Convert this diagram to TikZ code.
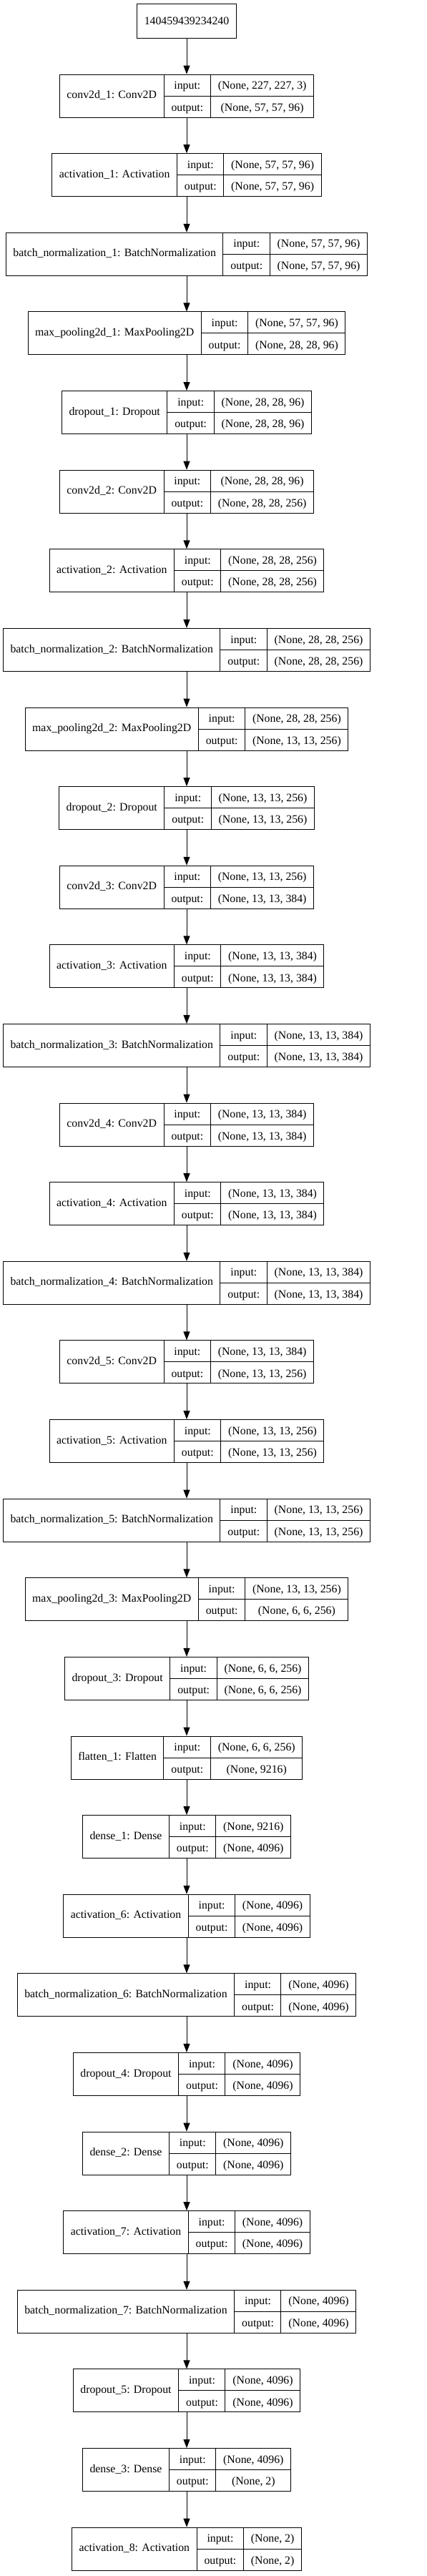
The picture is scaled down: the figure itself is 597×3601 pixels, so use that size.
\documentclass[tikz,border=0pt]{standalone}
\usepackage{fontspec}
\setmainfont{Liberation Serif}
\usepackage{tikz}
\usetikzlibrary{positioning,arrows.meta}

\setlength{\arrayrulewidth}{1pt}
\renewcommand{\arraystretch}{1.553}
\newcommand{\iocell}[2]{\begin{tabular}{@{\hspace{10pt}}c@{\hspace{10pt}}}#1\\\hline #2\end{tabular}}
\newcommand{\layertab}[3]{\begin{tabular}{@{\hspace{10pt}}c@{\hspace{10pt}}|@{}c@{}|@{}c@{}}#1 & \iocell{input:}{output:} & \iocell{#2}{#3}\end{tabular}}

\begin{document}
\begin{tikzpicture}[x=1pt,y=1pt,node distance=49.6pt,
	layerbox/.style={draw=black, line width=1pt, inner sep=0pt, font=\fontsize{15.8}{19}\selectfont},
	inputbox/.style={draw=black, line width=1pt, inner xsep=10pt, inner ysep=0pt, minimum height=48pt, font=\fontsize{15.8}{19}\selectfont},
	flow/.style={-{Triangle[length=12pt,width=9pt]}, line width=1pt, black},]
						\useasboundingbox (0,0) rectangle (597,-3601);
						\node[inputbox](model) at (261,-29.5){140459439234240};
						\node[layerbox](conv1)[below=of model]{\layertab{conv2d\_1: Conv2D}{(None, 227, 227, 3)}{(None, 57, 57, 96)}};
						\node[layerbox](act1)[below=of conv1]{\layertab{activation\_1: Activation}{(None, 57, 57, 96)}{(None, 57, 57, 96)}};
						\node[layerbox](bn1)[below=of act1]{\layertab{batch\_normalization\_1: BatchNormalization}{(None, 57, 57, 96)}{(None, 57, 57, 96)}};
						\node[layerbox](pool1)[below=of bn1]{\layertab{max\_pooling2d\_1: MaxPooling2D}{(None, 57, 57, 96)}{(None, 28, 28, 96)}};
						\node[layerbox](drop1)[below=of pool1]{\layertab{dropout\_1: Dropout}{(None, 28, 28, 96)}{(None, 28, 28, 96)}};
						\node[layerbox](conv2)[below=of drop1]{\layertab{conv2d\_2: Conv2D}{(None, 28, 28, 96)}{(None, 28, 28, 256)}};
						\node[layerbox](act2)[below=of conv2]{\layertab{activation\_2: Activation}{(None, 28, 28, 256)}{(None, 28, 28, 256)}};
						\node[layerbox](bn2)[below=of act2]{\layertab{batch\_normalization\_2: BatchNormalization}{(None, 28, 28, 256)}{(None, 28, 28, 256)}};
						\node[layerbox](pool2)[below=of bn2]{\layertab{max\_pooling2d\_2: MaxPooling2D}{(None, 28, 28, 256)}{(None, 13, 13, 256)}};
						\node[layerbox](drop2)[below=of pool2]{\layertab{dropout\_2: Dropout}{(None, 13, 13, 256)}{(None, 13, 13, 256)}};
						\node[layerbox](conv3)[below=of drop2]{\layertab{conv2d\_3: Conv2D}{(None, 13, 13, 256)}{(None, 13, 13, 384)}};
						\node[layerbox](act3)[below=of conv3]{\layertab{activation\_3: Activation}{(None, 13, 13, 384)}{(None, 13, 13, 384)}};
						\node[layerbox](bn3)[below=of act3]{\layertab{batch\_normalization\_3: BatchNormalization}{(None, 13, 13, 384)}{(None, 13, 13, 384)}};
						\node[layerbox](conv4)[below=of bn3]{\layertab{conv2d\_4: Conv2D}{(None, 13, 13, 384)}{(None, 13, 13, 384)}};
						\node[layerbox](act4)[below=of conv4]{\layertab{activation\_4: Activation}{(None, 13, 13, 384)}{(None, 13, 13, 384)}};
						\node[layerbox](bn4)[below=of act4]{\layertab{batch\_normalization\_4: BatchNormalization}{(None, 13, 13, 384)}{(None, 13, 13, 384)}};
						\node[layerbox](conv5)[below=of bn4]{\layertab{conv2d\_5: Conv2D}{(None, 13, 13, 384)}{(None, 13, 13, 256)}};
						\node[layerbox](act5)[below=of conv5]{\layertab{activation\_5: Activation}{(None, 13, 13, 256)}{(None, 13, 13, 256)}};
						\node[layerbox](bn5)[below=of act5]{\layertab{batch\_normalization\_5: BatchNormalization}{(None, 13, 13, 256)}{(None, 13, 13, 256)}};
						\node[layerbox](pool3)[below=of bn5]{\layertab{max\_pooling2d\_3: MaxPooling2D}{(None, 13, 13, 256)}{(None, 6, 6, 256)}};
						\node[layerbox](drop3)[below=of pool3]{\layertab{dropout\_3: Dropout}{(None, 6, 6, 256)}{(None, 6, 6, 256)}};
						\node[layerbox](flat1)[below=of drop3]{\layertab{flatten\_1: Flatten}{(None, 6, 6, 256)}{(None, 9216)}};
						\node[layerbox](dense1)[below=of flat1]{\layertab{dense\_1: Dense}{(None, 9216)}{(None, 4096)}};
						\node[layerbox](act6)[below=of dense1]{\layertab{activation\_6: Activation}{(None, 4096)}{(None, 4096)}};
						\node[layerbox](bn6)[below=of act6]{\layertab{batch\_normalization\_6: BatchNormalization}{(None, 4096)}{(None, 4096)}};
						\node[layerbox](drop4)[below=of bn6]{\layertab{dropout\_4: Dropout}{(None, 4096)}{(None, 4096)}};
						\node[layerbox](dense2)[below=of drop4]{\layertab{dense\_2: Dense}{(None, 4096)}{(None, 4096)}};
						\node[layerbox](act7)[below=of dense2]{\layertab{activation\_7: Activation}{(None, 4096)}{(None, 4096)}};
						\node[layerbox](bn7)[below=of act7]{\layertab{batch\_normalization\_7: BatchNormalization}{(None, 4096)}{(None, 4096)}};
						\node[layerbox](drop5)[below=of bn7]{\layertab{dropout\_5: Dropout}{(None, 4096)}{(None, 4096)}};
						\node[layerbox](dense3)[below=of drop5]{\layertab{dense\_3: Dense}{(None, 4096)}{(None, 2)}};
						\node[layerbox](act8)[below=of dense3]{\layertab{activation\_8: Activation}{(None, 2)}{(None, 2)}};

						\draw[flow](model) -- (conv1);
						\draw[flow](conv1) -- (act1);
						\draw[flow](act1) -- (bn1);
						\draw[flow](bn1) -- (pool1);
						\draw[flow](pool1) -- (drop1);
						\draw[flow](drop1) -- (conv2);
						\draw[flow](conv2) -- (act2);
						\draw[flow](act2) -- (bn2);
						\draw[flow](bn2) -- (pool2);
						\draw[flow](pool2) -- (drop2);
						\draw[flow](drop2) -- (conv3);
						\draw[flow](conv3) -- (act3);
						\draw[flow](act3) -- (bn3);
						\draw[flow](bn3) -- (conv4);
						\draw[flow](conv4) -- (act4);
						\draw[flow](act4) -- (bn4);
						\draw[flow](bn4) -- (conv5);
						\draw[flow](conv5) -- (act5);
						\draw[flow](act5) -- (bn5);
						\draw[flow](bn5) -- (pool3);
						\draw[flow](pool3) -- (drop3);
						\draw[flow](drop3) -- (flat1);
						\draw[flow](flat1) -- (dense1);
						\draw[flow](dense1) -- (act6);
						\draw[flow](act6) -- (bn6);
						\draw[flow](bn6) -- (drop4);
						\draw[flow](drop4) -- (dense2);
						\draw[flow](dense2) -- (act7);
						\draw[flow](act7) -- (bn7);
						\draw[flow](bn7) -- (drop5);
						\draw[flow](drop5) -- (dense3);
						\draw[flow](dense3) -- (act8);
				\end{tikzpicture}
\end{document}
